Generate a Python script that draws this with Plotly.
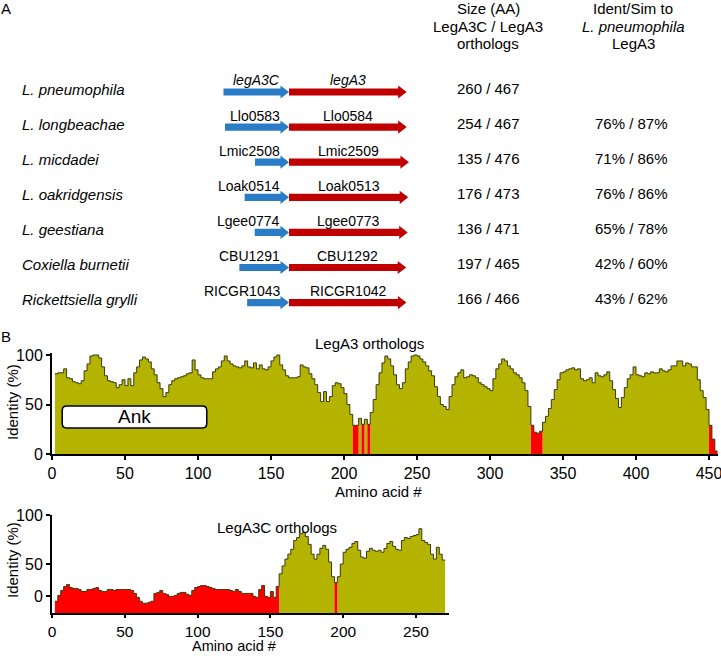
import plotly.graph_objects as go

# ---------------- Panel A data ----------------
species = ["L. pneumophila", "L. longbeachae", "L. micdadei", "L. oakridgensis",
           "L. geestiana", "Coxiella burnetii", "Rickettsiella grylli"]
legA3C_genes = ["legA3C", "Llo0583", "Lmic2508", "Loak0514", "Lgee0774", "CBU1291", "RICGR1043"]
legA3_genes = ["legA3", "Llo0584", "Lmic2509", "Loak0513", "Lgee0773", "CBU1292", "RICGR1042"]
legA3C_size = [260, 254, 135, 176, 136, 197, 166]
legA3_size = [467, 467, 476, 473, 471, 465, 466]
ident_pct = [None, 76, 71, 76, 65, 42, 43]
sim_pct = [None, 87, 86, 86, 78, 60, 62]

# ---------------- Panel B data ----------------
legA3_first_aa = 3
legA3C_first_aa = 3
aa_step = 2
legA3_identity = [
    81, 82, 82, 86, 77, 76, 73, 72, 71, 74,
    84, 91, 99, 100, 100, 97, 88, 79, 74, 73,
    72, 67, 70, 75, 69, 76, 69, 82, 88, 95,
    98, 96, 93, 86, 80, 72, 66, 58, 62, 70,
    74, 76, 77, 78, 79, 81, 82, 95, 85, 80,
    77, 76, 76, 76, 83, 86, 88, 94, 99, 94,
    91, 89, 88, 87, 89, 94, 88, 87, 92, 86,
    90, 86, 85, 88, 94, 98, 100, 90, 85, 79,
    77, 77, 77, 78, 90, 88, 87, 81, 76, 70,
    62, 53, 63, 53, 58, 69, 72, 71, 67, 61,
    50, 40, 29, 29, 36, 30, 35, 30, 42, 55,
    70, 82, 92, 99, 96, 89, 80, 70, 66, 72,
    86, 93, 99, 100, 99, 96, 93, 89, 84, 79,
    68, 58, 50, 48, 45, 58, 70, 78, 82, 85,
    77, 78, 80, 79, 77, 72, 70, 68, 66, 64,
    76, 86, 91, 96, 94, 89, 86, 82, 80, 77,
    72, 64, 48, 29, 22, 21, 23, 32, 38, 46,
    55, 65, 75, 82, 83, 85, 86, 87, 85, 86,
    76, 74, 75, 77, 72, 82, 79, 78, 80, 83,
    74, 65, 56, 47, 57, 67, 76, 80, 88, 80,
    79, 78, 82, 81, 83, 82, 82, 86, 84, 83,
    85, 89, 89, 94, 94, 89, 92, 91, 88, 88,
    75, 64, 57, 45, 29, 15, 3,
]
legA3C_identity = [
    12, 18, 23, 27, 29, 26, 25, 25, 24, 22,
    22, 24, 24, 25, 26, 23, 22, 22, 24, 24,
    23, 24, 24, 24, 24, 24, 23, 20, 16, 12,
    10, 10, 11, 12, 20, 21, 23, 20, 19, 17,
    17, 18, 20, 21, 21, 19, 18, 23, 26, 27,
    28, 28, 27, 26, 25, 24, 24, 24, 24, 24,
    23, 22, 24, 22, 20, 20, 20, 20, 17, 16,
    24, 28, 17, 16, 22, 16, 27, 40, 48, 55,
    60, 65, 74, 77, 81, 82, 78, 70, 60, 55,
    60, 66, 69, 65, 52, 37, 31, 37, 50, 62,
    65, 67, 71, 73, 64, 57, 56, 63, 66, 64,
    63, 64, 62, 66, 71, 73, 68, 65, 64, 74,
    77, 76, 78, 79, 80, 86, 74, 72, 70, 60,
    55, 67, 60, 54,
]
low_identity_cutoff = 31
ank_domain = (7, 106)
x_ticks_legA3 = [0, 50, 100, 150, 200, 250, 300, 350, 400, 450]
x_ticks_legA3C = [0, 50, 100, 150, 200, 250]

# ---------------- styling ----------------
W, H = 721, 656
FONT = "Arial, Liberation Sans, sans-serif"
OLIVE = "#b3b300"
RED = "#ff0000"
BLUE_ARROW = "#2a7cc6"
RED_ARROW = "#c00000"


def px(x):
    return x / W


def py(y):
    return 1 - y / H


def step_xy(first, step, vals, keep):
    xs, ys = [], []
    for i, v in enumerate(vals):
        xs.append(first + i * step - step / 2)
        ys.append(v if keep(v) else 0)
    xs.append(first + len(vals) * step - step / 2)
    ys.append(ys[-1])
    return xs, ys


fig = go.Figure()


def add_profile(vals, first, xa, ya):
    for keep, col in [(lambda v: v > low_identity_cutoff, OLIVE),
                      (lambda v: v <= low_identity_cutoff, RED)]:
        xs, ys = step_xy(first, aa_step, vals, keep)
        fig.add_trace(go.Scatter(x=xs, y=ys, mode="lines", line=dict(width=0, shape="hv"),
                                 fill="tozeroy", fillcolor=col, xaxis=xa, yaxis=ya,
                                 hoverinfo="skip"))
    xs, ys = step_xy(first, aa_step, vals, lambda v: True)
    fig.add_trace(go.Scatter(x=xs, y=ys, mode="lines",
                             line=dict(width=1, shape="hv", color="#3a3a10"),
                             xaxis=xa, yaxis=ya, hoverinfo="skip"))


add_profile(legA3_identity, legA3_first_aa, "x", "y")
add_profile(legA3C_identity, legA3C_first_aa, "x2", "y2")

# ---------------- Panel A arrows (hidden axis, x in amino acids) ----------------
PX_PER_AA = 0.252
JUNCTION = 289
row_y = [92 + 35.1 * i for i in range(len(species))]
BODY, HEAD, HEADLEN = 3.6, 6.6, 8.5 / PX_PER_AA

for i in range(len(species)):
    yc = row_y[i]
    c = legA3C_size[i]
    s = legA3_size[i]
    bx = [-c, -HEADLEN, -HEADLEN, 0, -HEADLEN, -HEADLEN, -c, -c]
    by = [yc - BODY, yc - BODY, yc - HEAD, yc, yc + HEAD, yc + BODY, yc + BODY, yc - BODY]
    fig.add_trace(go.Scatter(x=bx, y=by, mode="lines", fill="toself", fillcolor=BLUE_ARROW,
                             line=dict(width=0), xaxis="x3", yaxis="y3", hoverinfo="skip"))
    rx = [0, s - HEADLEN, s - HEADLEN, s, s - HEADLEN, s - HEADLEN, 0, 0]
    ry = [yc - BODY, yc - BODY, yc - HEAD, yc, yc + HEAD, yc + BODY, yc + BODY, yc - BODY]
    fig.add_trace(go.Scatter(x=rx, y=ry, mode="lines", fill="toself", fillcolor=RED_ARROW,
                             line=dict(width=0), xaxis="x3", yaxis="y3", hoverinfo="skip"))

ann = []


def text(x, y, t, size=15, xanchor="center", **kw):
    ann.append(dict(x=px(x), y=py(y), xref="paper", yref="paper", text=t, showarrow=False,
                    xanchor=xanchor, yanchor="middle", font=dict(size=size, family=FONT, color="black"),
                    **kw))


text(6, 9, "A", 15)
text(6, 336, "B", 15)
text(488, 9, "Size (AA)")
text(488, 26, "LegA3C / LegA3")
text(488, 43, "orthologs")
text(633, 9, "Ident/Sim to")
text(633, 26, "<i>L. pneumophila</i>")
text(633, 43, "LegA3")

for i in range(len(species)):
    yc = row_y[i]
    text(20, yc - 3, f"<i>{species[i]}</i>", 15, xanchor="left")
    g1 = f"<i>{legA3C_genes[i]}</i>" if i == 0 else legA3C_genes[i]
    g2 = f"<i>{legA3_genes[i]}</i>" if i == 0 else legA3_genes[i]
    text(282, yc - 11.5, g1, 14, xanchor="right")
    text(JUNCTION + PX_PER_AA * legA3_size[i] / 2, yc - 11.5, g2, 14)
    text(488, yc - 4, f"{legA3C_size[i]} / {legA3_size[i]}", 15)
    if ident_pct[i] is not None:
        text(631, yc - 4, f"{ident_pct[i]}% / {sim_pct[i]}%", 15)

# Panel B texts
text(369, 343, "LegA3 orthologs", 15)
text(277, 527, "LegA3C orthologs", 15)
text(12, 402, "Identity (%)", 15, textangle=-90)
text(12, 560, "Identity (%)", 15, textangle=-90)
text(378, 491, "Amino acid #", 15)
text(234, 646, "Amino acid #", 14.5)

# Ank box
a0, a1 = ank_domain
y0, y1 = 26.3, 48.5
rxa, rya = 3.0, 4.5
path = (f"M {a0 + rxa},{y0} L {a1 - rxa},{y0} Q {a1},{y0} {a1},{y0 + rya} "
        f"L {a1},{y1 - rya} Q {a1},{y1} {a1 - rxa},{y1} L {a0 + rxa},{y1} "
        f"Q {a0},{y1} {a0},{y1 - rya} L {a0},{y0 + rya} Q {a0},{y0} {a0 + rxa},{y0} Z")
fig.add_shape(type="path", path=path, xref="x", yref="y", fillcolor="white",
              line=dict(color="black", width=1.5), layer="above")
ann.append(dict(x=(a0 + a1) / 2, y=(y0 + y1) / 2, xref="x", yref="y", text="Ank",
                showarrow=False, font=dict(size=19, family=FONT, color="black")))

axis_style = dict(showline=True, linecolor="black", linewidth=2, ticks="outside",
                  ticklen=4, tickwidth=1.5, tickcolor="black", showgrid=False,
                  zeroline=False, automargin=False, ticklabeloverflow="allow",
                  tickfont=dict(size=16, family=FONT, color="black"))
x2_style = dict(axis_style, ticklen=3, tickfont=dict(size=15.5, family=FONT, color="black"))

fig.update_layout(
    width=W, height=H, autosize=False, margin=dict(l=0, r=0, t=0, b=0, pad=0),
    paper_bgcolor="white", plot_bgcolor="rgba(0,0,0,0)", showlegend=False,
    font=dict(family=FONT, size=15, color="black"),
    xaxis=dict(domain=[px(52), px(52 + 456 * 1.46)], range=[0, 456], tickvals=x_ticks_legA3,
               anchor="y", **axis_style),
    yaxis=dict(domain=[py(454), py(454 - 102 * 0.99)], range=[0, 102], tickvals=[0, 50, 100],
               anchor="x", **axis_style),
    xaxis2=dict(domain=[px(52), px(52 + 273 * 1.456)], range=[0, 273], tickvals=x_ticks_legA3C,
                anchor="y2", **x2_style),
    yaxis2=dict(domain=[py(613), py(515)], range=[0, 100], tickvals=[17, 50, 100],
                ticktext=["0", "50", "100"], anchor="x2", **axis_style),
    xaxis3=dict(domain=[0, 1], range=[-JUNCTION / PX_PER_AA, (W - JUNCTION) / PX_PER_AA],
                visible=False, anchor="y3", fixedrange=True, automargin=False),
    yaxis3=dict(domain=[0, 1], range=[H, 0], visible=False, anchor="x3", fixedrange=True,
                automargin=False),
    annotations=ann,
)

fig.write_html(
    "out.html",
    config={"responsive": False, "displayModeBar": False},
    default_width=f"{W}px", default_height=f"{H}px",
    post_script="document.body.style.margin='0px';document.body.style.padding='0px';"
                "document.body.style.overflow='hidden';",
)
